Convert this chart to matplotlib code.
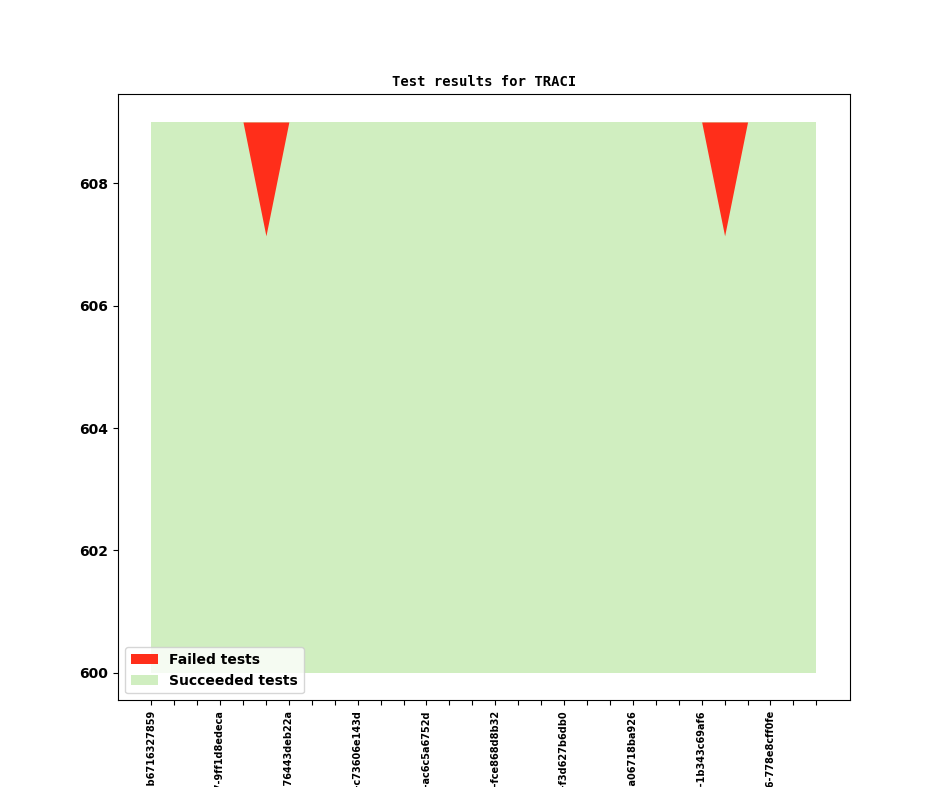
import numpy as np
import matplotlib
matplotlib.use('Agg')
import matplotlib.pyplot as plt

# test run data, one entry per revision
revisions = [
    "v1_1_0+0101-b6716327859", "v1_1_0+0105-0a1c2d3e4f5", "v1_1_0+0110-1b2c3d4e5f6",
    "v1_1_0+0117-9ff1d8edeca", "v1_1_0+0121-2c3d4e5f607", "v1_1_0+0126-3d4e5f60718",
    "v1_1_0+0130-76443deb22a", "v1_1_0+0134-4e5f6071829", "v1_1_0+0139-5f60718293a",
    "v1_1_0+0142-c73606e143d", "v1_1_0+0148-60718293a4b", "v1_1_0+0151-718293a4b5c",
    "v1_1_0+0155-ac6c5a6752d", "v1_1_0+0160-8293a4b5c6d", "v1_1_0+0164-93a4b5c6d7e",
    "v1_1_0+0169-fce868d8b32", "v1_1_0+0173-a4b5c6d7e8f", "v1_1_0+0178-b5c6d7e8f90",
    "v1_1_0+0182-f3d627b6db0", "v1_1_0+0187-c6d7e8f9012", "v1_1_0+0190-d7e8f901234",
    "v1_1_0+0194-a06718ba926", "v1_1_0+0199-e8f90123456", "v1_1_0+0203-f9012345678",
    "v1_1_0+0208-1b343c69af6", "v1_1_0+0212-0123456789a", "v1_1_0+0215-123456789ab",
    "v1_1_0+0216-778e8cff0fe", "v1_1_0+0220-23456789abc", "v1_1_0+0224-3456789abcd",
]
total_tests = [609] * 30
failed = [0, 0, 0, 0, 0, 1.86, 0, 0, 0, 0,
          0, 0, 0, 0, 0, 0, 0, 0, 0, 0,
          0, 0, 0, 0, 0, 1.86, 0, 0, 0, 0]
baseline = 600

x = np.arange(len(revisions))
total = np.array(total_tests, dtype=float)
fail = np.array(failed, dtype=float)

fig = plt.figure(figsize=(9.44, 7.87), dpi=100)
ax = fig.add_subplot(111)

ax.fill_between(x, baseline, total, color='#d0eec0', linewidth=0, label='Succeeded tests')
ax.fill_between(x, total - fail, total, color='#ff2e1a', linewidth=0, label='Failed tests')

ax.set_title('Test results for TRACI', fontsize=10, fontweight='bold', family='DejaVu Sans Mono')

ax.set_xticks(x)
ax.set_xticklabels([r if i % 3 == 0 else '' for i, r in enumerate(revisions)],
                   rotation=90, fontsize=7, fontweight='bold')
ax.set_yticks([600, 602, 604, 606, 608])
for lbl in ax.get_yticklabels():
    lbl.set_fontweight('bold')
    lbl.set_fontsize(10)

handles, labels = ax.get_legend_handles_labels()
ax.legend(handles[::-1], labels[::-1], loc='lower left', prop={'weight': 'bold', 'size': 10})

fig.savefig('out.png', dpi=100)
